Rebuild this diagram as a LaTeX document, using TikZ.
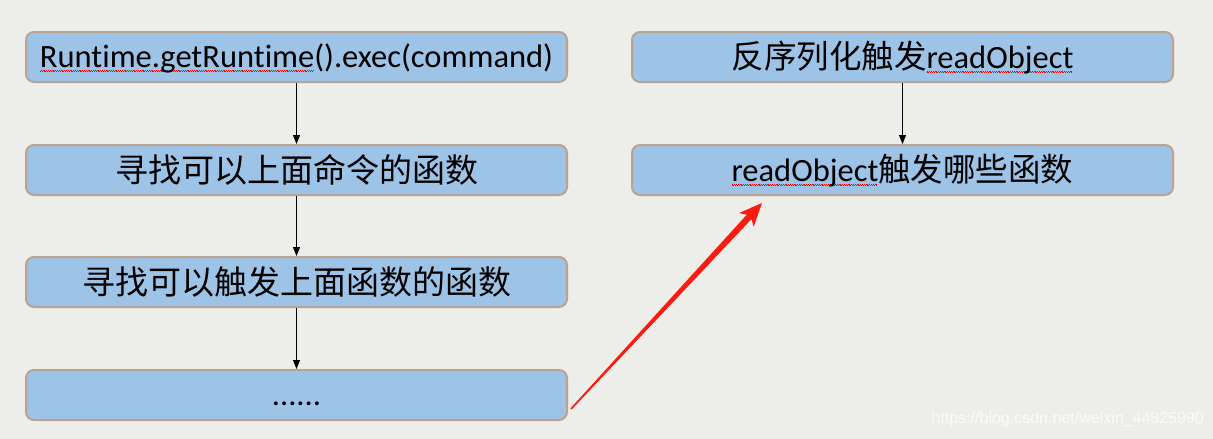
\documentclass[tikz,border=0pt]{standalone}
\usepackage{fontspec}
\setmainfont{Carlito}[Ligatures=NoCommon]
\newfontfamily\cjk{Noto Sans CJK SC}
\newfontfamily\wmfont{Liberation Sans}
\usetikzlibrary{calc,arrows.meta}
\definecolor{bg}{HTML}{EDEDE9}
\definecolor{boxfill}{HTML}{9DC3E6}
\definecolor{boxline}{HTML}{BBA392}
\definecolor{redarrow}{HTML}{FF1A10}
\newsavebox\swbox
\newcommand\spellwave[1]{\sbox\swbox{#1}\rlap{\raisebox{-4pt}{\hbox to \wd\swbox{\color{red}\leaders\hbox{\rule{0.9pt}{0.6pt}\raisebox{0.8pt}{\rule{0.9pt}{0.6pt}}}\hfill}}}\usebox\swbox}
\begin{document}
\begin{tikzpicture}[x=1pt,y=-1pt,
  flowbox/.style={draw=boxline,line width=2pt,fill=boxfill,rounded corners=8pt,
    minimum width=541pt,minimum height=50pt,inner sep=0pt,
    font=\fontsize{32.5}{36}\selectfont,text height=21pt,text depth=0pt},
  cjkbox/.style={flowbox,font=\cjk\fontsize{33}{38}\selectfont,text height=25pt},
  mixbox/.style={flowbox,text height=23pt},
  link/.style={-{Triangle[length=9pt,width=7pt]},line width=0.8pt,black}]
\fill[bg] (0,0) rectangle (1213,439);
\useasboundingbox (0,0) rectangle (1213,439);
\node[flowbox] (a1) at (296.5,57) {\spellwave{Runtime.getRuntime}().exec(command)};
\node[cjkbox] (a2) at (296.5,170) {寻找可以上面命令的函数};
\node[cjkbox] (a3) at (296.5,282) {寻找可以触发上面函数的函数};
\node[flowbox] (a4) at (296.5,395) {......};
\node[mixbox] (b1) at (902.5,57) {{\cjk 反序列化触发}\spellwave{readObject}};
\node[mixbox] (b2) at (902.5,170) {\spellwave{readObject}{\cjk 触发哪些函数}};
\draw[link] (a1.south) -- (a2.north);
\draw[link] (a2.south) -- (a3.north);
\draw[link] (a3.south) -- (a4.north);
\draw[link] (b1.south) -- (b2.north);
\coordinate (tail) at ($(a4.east)+(3,14)$);
\coordinate (tip) at ($(b2.south west)+(131,7)$);
\coordinate (hb) at ($(tip)!23pt!(tail)$);
\coordinate (hn) at ($(tip)!19pt!(tail)$);
\fill[redarrow] ($(tail)!0.8pt!90:(tip)$) -- ($(hn)!3.2pt!-90:(tail)$)
  -- ($(hb)!10pt!-90:(tail)$) -- (tip) -- ($(hb)!10pt!90:(tail)$)
  -- ($(hn)!3.2pt!90:(tail)$) -- ($(tail)!0.8pt!-90:(tip)$) -- cycle;
\node[font=\wmfont\fontsize{16}{18}\selectfont,text=white,opacity=0.75,anchor=east,inner sep=0pt] (wm) at (1204,419) {https://blog.csdn.net/weixin\_44825990};
\end{tikzpicture}
\end{document}
